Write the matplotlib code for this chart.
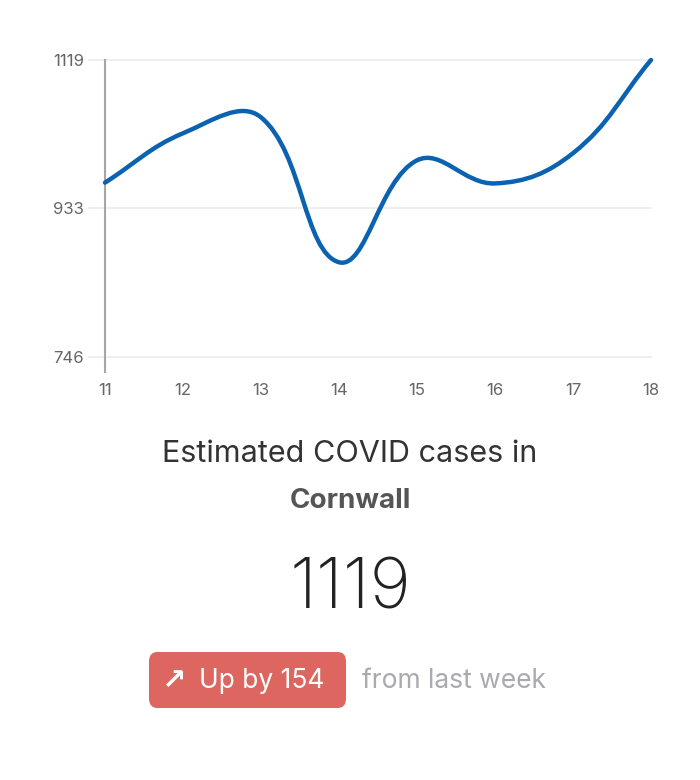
import matplotlib.pyplot as plt
import numpy as np
from matplotlib.path import Path
from matplotlib.patches import PathPatch, FancyBboxPatch

days = [11, 12, 13, 14, 15, 16, 17, 18]
cases = [965, 1027, 1047, 865, 993, 964, 1002, 1119]
y_ticks = [746, 933, 1119]
region = 'Cornwall'
latest = 1119
change = 154

plt.rcParams['font.family'] = ['Inter', 'DejaVu Sans']

fig = plt.figure(figsize=(7, 7.8), dpi=100)
W, H = 700, 780
ax = fig.add_axes([105 / W, 1 - 357 / H, (651 - 105) / W, (357 - 60) / H])
ax.set_xlim(days[0], days[-1])
ax.set_ylim(y_ticks[0], y_ticks[-1])

# grid + axis like the web chart
for yt in y_ticks:
    ax.plot([-0.03, 1], [yt, yt], transform=ax.get_yaxis_transform(), color='#ebebeb',
            lw=1.2, clip_on=False, zorder=1)
ax.plot([0, 0], [-0.05, 1], transform=ax.transAxes, color='#a6a6a6', lw=1.5,
        clip_on=False, zorder=2)
for s in ax.spines.values():
    s.set_visible(False)
ax.set_yticks(y_ticks)
ax.set_xticks(days)
ax.tick_params(length=0, labelsize=12, labelcolor='#666666')
ax.tick_params(axis='y', pad=15)
ax.tick_params(axis='x', pad=19)

# smooth line (bezier spline, tension 0.4) built in display space
fig.canvas.draw()
pts = ax.transData.transform(np.column_stack([days, cases]))
t = 0.4
n = len(pts)
cin, cout = [], []
for i in range(n):
    p = pts[i]
    prev = pts[max(i - 1, 0)]
    nxt = pts[min(i + 1, n - 1)]
    d01 = np.hypot(*(p - prev))
    d12 = np.hypot(*(nxt - p))
    tot = d01 + d12 if d01 + d12 > 0 else 1
    fa = t * d01 / tot
    fb = t * d12 / tot
    cin.append(p - fa * (nxt - prev))
    cout.append(p + fb * (nxt - prev))
verts = [pts[0]]
codes = [Path.MOVETO]
for i in range(1, n):
    verts += [cout[i - 1], cin[i], pts[i]]
    codes += [Path.CURVE4] * 3
inv = ax.transData.inverted()
verts = inv.transform(np.array(verts))
ax.add_patch(PathPatch(Path(verts, codes), fill=False, edgecolor='#0a62b0', lw=3.2,
                       capstyle='round', zorder=3, clip_on=False))

# text block
fig.text(0.5, 1 - 454 / H, 'Estimated COVID cases in', ha='center', va='center',
         fontsize=22, color='#333333')
fig.text(0.5, 1 - 501 / H, region, ha='center', va='center', fontsize=20,
         color='#555555', fontweight='bold')
fig.text(0.5, 1 - 590 / H, str(latest), ha='center', va='center', fontsize=51,
         color='#222222', fontweight='light')

badge = FancyBboxPatch((149 / W, 1 - 708 / H), (346 - 149) / W, (708 - 652) / H,
                       boxstyle='round,pad=0,rounding_size=0.012',
                       transform=fig.transFigure, facecolor='#dd6661', edgecolor='none')
fig.add_artist(badge)
fig.text(162 / W, 1 - 681 / H, '\u2197', ha='left', va='center', fontsize=21,
         color='white', fontweight='bold', family=['DejaVu Sans'])
fig.text(199 / W, 1 - 681 / H, f'Up by {change}', ha='left', va='center',
         fontsize=19, color='white')
fig.text(362 / W, 1 - 681 / H, 'from last week', ha='left', va='center',
         fontsize=19, color='#a9a9ae')

fig.savefig('out.png', dpi=100)
